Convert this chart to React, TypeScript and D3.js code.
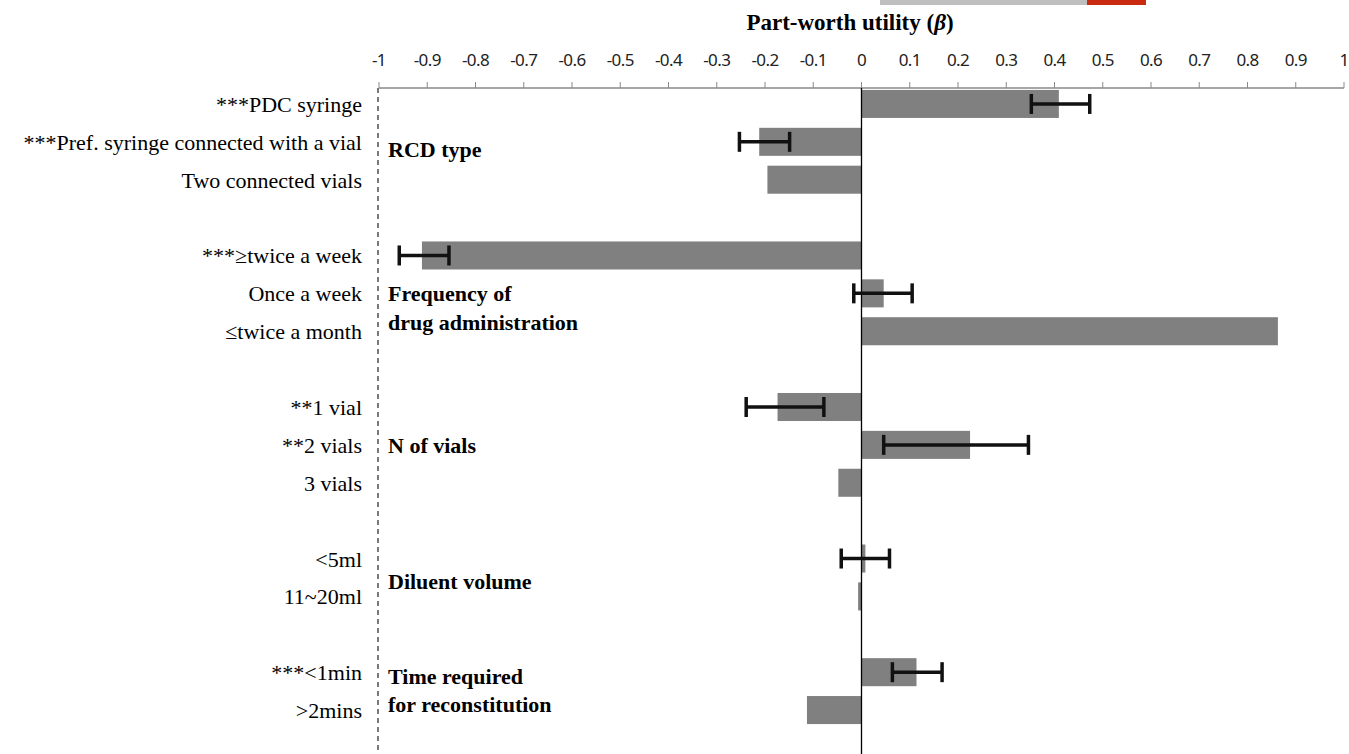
import * as d3 from "d3";

// attribute levels, top to bottom ("" = gap row between groups)
const levels = [
  "***PDC syringe", "***Pref. syringe connected with a vial", "Two connected vials", "",
  "***\u2265twice a week", "Once a week", "\u2264twice a month", "",
  "**1 vial", "**2 vials", "3 vials", "",
  "<5ml", "11~20ml", "",
  "***<1min", ">2mins",
];
// part-worth utilities
const betas = [0.409, -0.212, -0.195, null, -0.911, 0.046, 0.863, null, -0.174, 0.225, -0.048, null, 0.008, -0.007, null, 0.114, -0.113];
// confidence intervals (null = none drawn)
const ciLow = [0.352, -0.253, null, null, -0.958, -0.016, null, null, -0.239, 0.046, null, null, -0.042, null, null, 0.064, null];
const ciHigh = [0.473, -0.149, null, null, -0.855, 0.105, null, null, -0.078, 0.346, null, null, 0.058, null, null, 0.167, null];

// group names, with the row their first line sits at
const groups = [
  { lines: ["RCD type"], row: 1.2 },
  { lines: ["Frequency of", "drug administration"], row: 5 },
  { lines: ["N of vials"], row: 9 },
  { lines: ["Diluent volume"], row: 12.6 },
  { lines: ["Time required", "for reconstitution"], row: 15.1 },
];

const ticks = d3.range(-1, 1.0001, 0.1).map(v => Math.round(v * 10) / 10);

const W = 1349, H = 754;

export default function App() {
  const x = d3.scaleLinear().domain([-1, 1]).range([379, 1344]);
  const slots = levels.map((_, i) => String(i));
  const y = d3.scaleBand().domain(slots).range([85, 729]);
  const bw = y.bandwidth();
  const barH = bw * 0.74;
  const rowY = (r: number) => (y("0") as number) + r * bw + bw / 2;
  const serif = "'Liberation Serif', 'Times New Roman', serif";
  const sans = "'Noto Sans', 'Open Sans', sans-serif";

  return (
    <div style={{ position: "absolute", left: 0, top: 0 }}>
      <svg width={W} height={H} style={{ display: "block", background: "#fff" }}>
        {/* stray bit of UI at top edge of the source image */}
        <rect x={880} y={0} width={207} height={5} fill="#bfbfbf" />
        <rect x={1087} y={0} width={59} height={5} fill="#c92a10" />

        <text x={850} y={30} textAnchor="middle" fontFamily={serif} fontWeight="bold" fontSize={23}>
          Part-worth utility (<tspan fontStyle="italic">β</tspan>)
        </text>

        {/* top axis */}
        <line x1={x(-1)} x2={x(1)} y1={88} y2={88} stroke="#8a8a8a" strokeWidth={1.5} />
        {ticks.map(t => (
          <g key={t}>
            <line x1={x(t)} x2={x(t)} y1={82} y2={88} stroke="#8a8a8a" strokeWidth={1} />
            <text x={x(t)} y={66} textAnchor="middle" fontFamily={sans} fontSize={17}
              letterSpacing={-0.6} fill="#222">
              {String(t)}
            </text>
          </g>
        ))}

        {/* dashed left reference */}
        <line x1={x(-1) - 1} x2={x(-1) - 1} y1={88} y2={H} stroke="#333" strokeWidth={1.3} strokeDasharray="5,4" />

        {/* bars */}
        {betas.map((b, i) =>
          b === null ? null : (
            <rect key={i} x={Math.min(x(0), x(b))} width={Math.abs(x(b) - x(0))}
              y={(y(String(i)) as number) + (bw - barH) / 2} height={barH} fill="#808080" />
          )
        )}

        {/* zero line */}
        <line x1={x(0)} x2={x(0)} y1={88} y2={H} stroke="#000" strokeWidth={1.3} />

        {/* error bars */}
        {ciLow.map((lo, i) => {
          const hi = ciHigh[i];
          if (lo === null || hi === null) return null;
          const cy = (y(String(i)) as number) + bw / 2;
          return (
            <g key={i} stroke="#111" strokeWidth={3.5}>
              <line x1={x(lo)} x2={x(hi)} y1={cy} y2={cy} />
              <line x1={x(lo)} x2={x(lo)} y1={cy - 10} y2={cy + 10} />
              <line x1={x(hi)} x2={x(hi)} y1={cy - 10} y2={cy + 10} />
            </g>
          );
        })}

        {/* level labels */}
        {levels.map((l, i) => (
          <text key={i} x={362} y={(y(String(i)) as number) + bw / 2 + 8} textAnchor="end"
            fontFamily={serif} fontSize={22} fill="#000">{l}</text>
        ))}

        {/* group labels */}
        {groups.map(g => (
          <text key={g.lines[0]} fontFamily={serif} fontWeight="bold" fontSize={22} fill="#000">
            {g.lines.map((ln, j) => (
              <tspan key={j} x={388} y={rowY(g.row) + 8 + j * 28.5}>{ln}</tspan>
            ))}
          </text>
        ))}
      </svg>
    </div>
  );
}
